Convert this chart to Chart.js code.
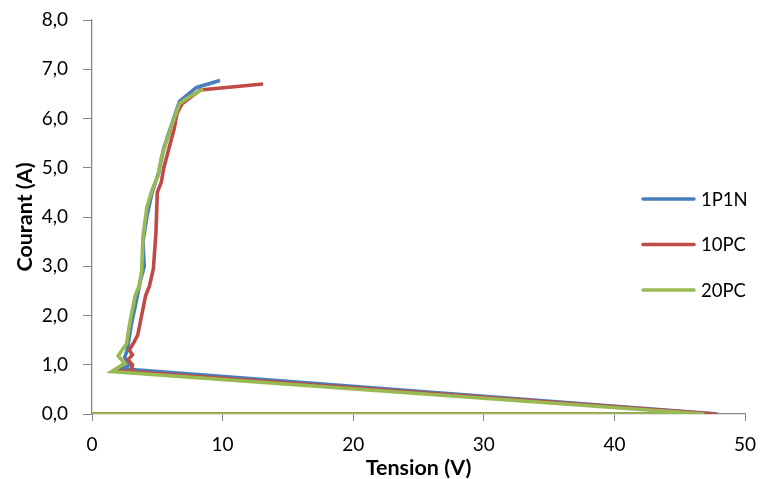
<!DOCTYPE html>
<html lang="fr">
<head>
    <meta charset="UTF-8">
    <title>Courant / Tension</title>
    <script src="https://cdn.jsdelivr.net/npm/chart.js"></script>
    <style>
        html, body { margin: 0; padding: 0; background: #fff; }
        #wrap { width: 763px; height: 479px; }
    </style>
</head>
<body>
    <div id="wrap"><canvas id="ivChart"></canvas></div>

    <script>
        // Séries (tension V, courant A)
        const seriesNames = ['1P1N', '10PC', '20PC'];
        const seriesColors = ['#4A7EBB', '#BE4B48', '#98B954'];

        const tension1P1N = [0, 47.9, 2.3, 2.9, 2.5, 2.7, 3.0, 3.4, 3.7, 4.0, 3.9, 4.2, 4.6, 5.1, 5.5, 6.0, 6.7, 8.0, 9.8];
        const courant1P1N = [0, 0, 0.92, 1.00, 1.15, 1.30, 1.80, 2.30, 2.70, 3.00, 3.50, 4.00, 4.50, 4.90, 5.40, 5.80, 6.35, 6.63, 6.77];

        const tension10PC = [0, 47.7, 1.8, 3.0, 3.1, 2.75, 3.1, 2.85, 3.2, 3.5, 3.8, 4.1, 4.4, 4.7, 4.9, 5.0, 5.3, 5.5, 5.9, 6.3, 6.5, 6.9, 8.3, 13.1];
        const courant10PC = [0, 0, 0.88, 0.86, 1.00, 1.10, 1.20, 1.30, 1.45, 1.60, 2.00, 2.40, 2.60, 2.95, 3.70, 4.50, 4.70, 5.00, 5.40, 5.80, 6.10, 6.30, 6.58, 6.70];

        const tension20PC = [0, 46.9, 1.5, 2.5, 2.0, 2.65, 2.8, 3.0, 3.3, 3.6, 3.8, 3.9, 4.2, 4.6, 5.07, 5.3, 5.6, 6.1, 6.7, 7.4, 8.5];
        const courant20PC = [0, 0, 0.86, 1.03, 1.18, 1.43, 1.70, 2.00, 2.40, 2.60, 2.90, 3.60, 4.20, 4.55, 4.85, 5.20, 5.45, 5.85, 6.30, 6.43, 6.60];

        const xTicksMax = 50;
        const yTicksMax = 8;

        function toPoints(xs, ys) {
            return xs.map((x, i) => ({ x: x, y: ys[i] }));
        }

        const allSeries = [
            toPoints(tension1P1N, courant1P1N),
            toPoints(tension10PC, courant10PC),
            toPoints(tension20PC, courant20PC)
        ];

        const FONT = 'Lato, "Liberation Sans", sans-serif';

        // Légende dessinée à droite, dans la zone du graphique (comme Excel)
        const sideLegend = {
            id: 'sideLegend',
            afterDraw(chart) {
                const c = chart.ctx;
                c.save();
                c.font = '18.5px ' + FONT;
                c.textBaseline = 'middle';
                c.fillStyle = '#000';
                chart.data.datasets.forEach((ds, i) => {
                    const y = 199 + i * 45.5;
                    c.strokeStyle = ds.borderColor;
                    c.lineWidth = 3.5;
                    c.lineCap = 'round';
                    c.beginPath();
                    c.moveTo(643, y);
                    c.lineTo(694, y);
                    c.stroke();
                    c.fillText(ds.label, 701, y + 1);
                });
                c.restore();
            }
        };

        const ctx = document.getElementById('ivChart').getContext('2d');
        new Chart(ctx, {
            type: 'scatter',
            data: {
                datasets: seriesNames.map((name, i) => ({
                    label: name,
                    data: allSeries[i],
                    showLine: true,
                    borderColor: seriesColors[i],
                    backgroundColor: seriesColors[i],
                    borderWidth: 3.6,
                    pointRadius: 0,
                    tension: 0,
                    order: seriesNames.length - i
                }))
            },
            options: {
                responsive: true,
                maintainAspectRatio: false,
                animation: false,
                layout: { padding: { top: 20, right: 18, left: 0, bottom: 0 } },
                plugins: {
                    legend: { display: false },
                    tooltip: { enabled: false }
                },
                scales: {
                    x: {
                        type: 'linear',
                        min: 0,
                        max: xTicksMax,
                        afterFit(scale) {
                            scale.height = 65;
                            scale.paddingLeft = 0;
                            scale.paddingRight = 0;
                        },
                        border: { color: '#868686', width: 1.3 },
                        grid: { drawOnChartArea: false, tickLength: 7, tickColor: '#868686' },
                        ticks: {
                            stepSize: 10,
                            padding: 12,
                            color: '#000',
                            font: { family: FONT, size: 19 }
                        },
                        title: {
                            display: true,
                            text: 'Tension (V)',
                            color: '#000',
                            padding: { top: 0, bottom: 0 },
                            font: { family: FONT, size: 21.5, weight: 'bold', lineHeight: 1.0 }
                        }
                    },
                    y: {
                        type: 'linear',
                        min: 0,
                        max: yTicksMax,
                        afterFit(scale) {
                            scale.width = 92;
                            scale.paddingTop = 0;
                            scale.paddingBottom = 0;
                        },
                        border: { color: '#868686', width: 1.3 },
                        grid: { drawOnChartArea: false, tickLength: 9, tickColor: '#868686' },
                        ticks: {
                            stepSize: 1,
                            padding: 15,
                            color: '#000',
                            font: { family: FONT, size: 19 },
                            callback: (v) => v.toFixed(1).replace('.', ',')
                        },
                        title: {
                            display: true,
                            text: 'Courant (A)',
                            color: '#000',
                            padding: { top: 12, bottom: 0 },
                            font: { family: FONT, size: 21.5, weight: 'bold' }
                        }
                    }
                }
            },
            plugins: [sideLegend]
        });
    </script>
</body>
</html>
